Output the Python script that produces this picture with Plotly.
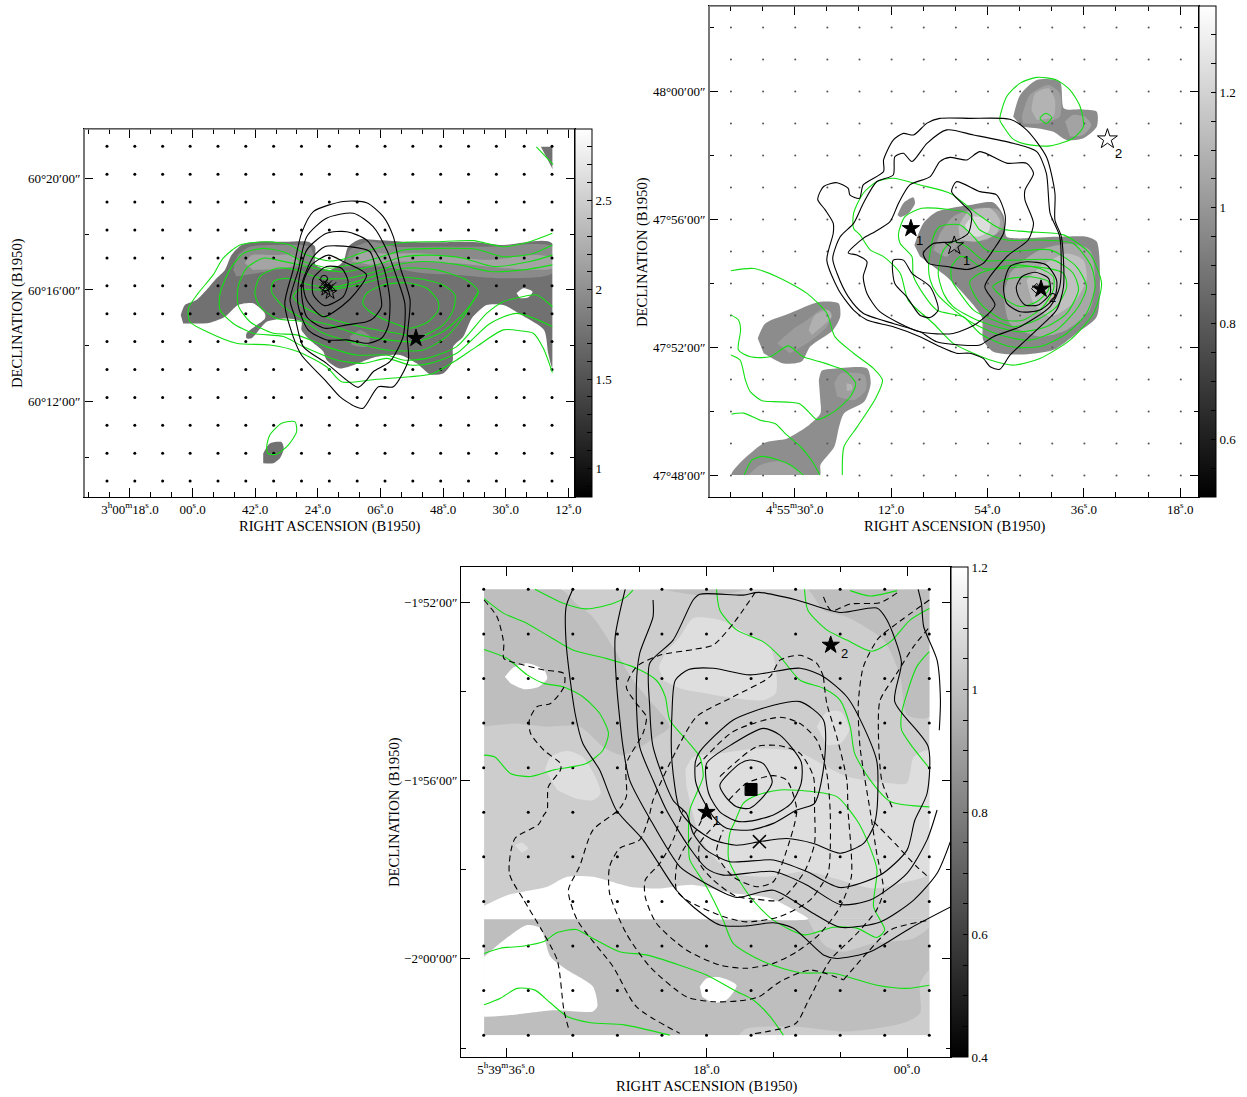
import plotly.graph_objects as go

W, H = 1247, 1097
SERIF = "Liberation Serif"
GREEN = "#12e012"

# ---------- PANEL 1: RA seconds from 3h00m00s, Dec arcmin from 60d16m ----------
p1_dot_ra = [24.6,16.6,8.6,0.7,-7.3,-15.3,-23.3,-31.3,-39.3,-47.3,-55.3,-63.3,-71.3,-79.3,-87.3,-95.3,-103.3]
p1_dot_dec = [5.15,4.15,3.15,2.15,1.15,0.15,-0.85,-1.85,-2.85,-3.85,-4.85,-5.85,-6.85]
p1_xticks = [18,0,-18,-36,-54,-72,-90,-108]
p1_xlabels = ["3<sup>h</sup>00<sup>m</sup>18<sup>s</sup>.0","00<sup>s</sup>.0","42<sup>s</sup>.0","24<sup>s</sup>.0","06<sup>s</sup>.0","48<sup>s</sup>.0","30<sup>s</sup>.0","12<sup>s</sup>.0"]
p1_yticks = [4,0,-4]
p1_ylabels = ["60°20′00″","60°16′00″","60°12′00″"]
p1_cb_ticks = [.9,1,1.1,1.2,1.3,1.4,1.5,1.6,1.7,1.8,1.9,2,2.1,2.2,2.3,2.4,2.5,2.6,2.7,2.8]
p1_cb_labels = {1:"1",1.5:"1.5",2:"2",2.5:"2.5"}

p1_dark = [(3.4,-.9),(2.2,-.54),(-1.1,-.36),(-4,0),(-6.9,.42),(-9.3,.72),(-11.2,1.25),(-14.1,1.61),(-18.4,1.73),(-26.1,1.73),(-33.2,1.73),(-35.2,1.55),(-35.3,.9),(-39.5,.72),(-43.3,1.02),(-44.7,1.55),(-48.1,1.82),(-52.9,1.79),(-60.5,1.73),(-70.1,1.71),(-79.7,1.73),(-89.3,1.61),(-103.4,1.67),(-103.4,-2.81),(-102.2,-2.27),(-101,-1.43),(-95,-.93),(-89.3,-.54),(-84.5,-.54),(-80.2,-1.02),(-77.8,-1.67),(-74.9,-2.03),(-74.7,-2.57),(-72,-2.99),(-68.2,-3.02),(-64.4,-2.63),(-59.6,-2.33),(-52.9,-2.39),(-42.3,-2.81),(-38.5,-2.51),(-37.6,-2.21),(-33.7,-1.79),(-31.3,-1.43),(-31.3,-1.14),(-27,-1.02),(-21.3,-1.14),(-17,-1.73),(-15.5,-1.73),(-15.5,-1.55),(-20.8,-1.02),(-20.8,-.84),(-17.4,-.48),(-13.1,-.54),(-9.3,-.96),(-5,-1.17),(2.7,-1.2)]
p1_blob = [(-20.3,-5.86),(-22.2,-5.5),(-25.6,-5.46),(-26.2,-5.68),(-25.1,-6.03),(-23.2,-6.21),(-20.3,-6.21)]
p1_corner = [(-100.1,5.13),(-103.6,5.13),(-103.6,4.3)]
p1_mid_a = [(-11.7,.72),(-13.1,1.25),(-16.5,1.55),(-25.1,1.61),(-33.7,1.55),(-34.9,1.02),(-31.8,.84),(-23.2,.72),(-18.4,.6),(-12.6,.48)]
p1_mid_b = [(-43.8,.84),(-45.2,1.43),(-51,1.73),(-58.6,1.55),(-70.1,1.55),(-84.5,1.55),(-103.4,1.55),(-103.4,.6),(-89.3,.42),(-75.9,.54),(-66.3,.6),(-54.8,.84)]
p1_mid_c = [(-45.2,-1.67),(-48.1,-1.43),(-51,-1.67),(-50,-2.03),(-45.7,-1.97)]
p1_light_a = [(-15,.96),(-17,1.25),(-23.2,1.25),(-28.9,1.25),(-30.4,.96),(-26.1,.78),(-17.4,.72)]
p1_light_b = [(-45.7,1.02),(-48.1,1.37),(-54.8,1.31),(-66.3,1.31),(-84.5,1.08),(-98.8,1.25),(-103.4,1.14),(-103.4,.78),(-90.2,.78),(-75.9,.96),(-60.5,1.02),(-51,.9)]
p1_hole = [(-93.1,-.12),(-95,.06),(-97.7,-.06),(-96.5,-.26),(-94.1,-.3)]
p1_mask = [(-103.4,5.77),(-109.9,5.77),(-109.9,-7.42),(-103.4,-7.42)]

p1_g1 = [(-103.4,2.03),(-96.9,1.73),(-89.3,1.55),(-80.7,1.77),(-70.1,1.73),(-60.5,1.7),(-51,1.43),(-44.3,1.14),(-39.5,1.04),(-32.8,1.25),(-28,1.61),(-21.3,1.73),(-13.6,1.61),(-8.8,1.14),(-5.9,.54),(-1.6,-.12),(1.2,-.66),(.8,-1.14),(-4,-1.49),(-12.6,-1.91),(-22.2,-1.97),(-30.4,-2.21),(-38.5,-2.75),(-42.8,-3.29),(-52.9,-3.2),(-62.5,-3.11),(-69.2,-2.99),(-75.9,-2.51),(-81.6,-2.03),(-89.3,-1.43),(-94.1,-1.46),(-97.9,-1.55),(-100.8,-2.09),(-103.4,-2.96)]
p1_g2 = [(-103.4,1.61),(-97.9,1.31),(-89.3,1.19),(-81.6,1.46),(-70.1,1.49),(-60.5,1.43),(-52.9,1.14),(-45.2,.9),(-39.5,.78),(-31.8,1.02),(-26.1,1.37),(-20.3,1.49),(-14.6,1.31),(-10.7,.72),(-7.9,-.12),(-7.9,-.72),(-11.7,-1.2),(-17.4,-1.55),(-26.1,-1.67),(-31.8,-2.03),(-41.4,-2.51),(-49,-2.63),(-55.8,-2.45),(-62.5,-2.69),(-68.2,-2.63),(-75.9,-2.27),(-85.5,-1.2),(-93.1,-.84),(-103.4,-1.31)]
p1_g3 = [(-103.4,1.25),(-96.9,1.02),(-86.4,.84),(-77.8,1.14),(-68.2,1.25),(-60.5,1.19),(-52.9,.9),(-44.3,.66),(-37.6,.72),(-30.8,.9),(-24.1,1.08),(-20.3,1.14),(-15.5,.78),(-13.1,.12),(-13.1,-.54),(-16.5,-1.14),(-23.2,-1.55),(-29.9,-1.61),(-38.5,-2.03),(-47.1,-2.33),(-55.8,-2.33),(-60.5,-2.51),(-67.3,-2.45),(-75.9,-2.03),(-84.5,-.84),(-89.3,-.42),(-94.1,-.26),(-98.9,-.18),(-103.4,-.6)]
p1_g4 = [(-103.4,.9),(-95,.72),(-85.5,.66),(-76.8,.9),(-66.3,1.02),(-58.6,.9),(-51,.6),(-44.3,.42),(-36.6,.42),(-29.9,.72),(-24.1,.78),(-19.4,.48),(-17.9,-.12),(-19.4,-.6),(-24.1,-1.02),(-31.8,-1.14),(-37.6,-1.55),(-47.1,-1.91),(-55.8,-2.15),(-66.3,-2.15),(-73,-1.67),(-77.8,-.96),(-82.1,-.06)]
p1_g5 = [(-82.1,-.06),(-78.7,.36),(-70.1,.72),(-60.5,.78),(-51,.45),(-41.4,.12),(-33.7,.18),(-27,.42),(-23.2,.3),(-22.7,-.06),(-25.6,-.54),(-31.8,-1.02),(-39.5,-1.25),(-48.1,-1.61),(-55.8,-1.79),(-64.4,-1.85),(-72,-1.49),(-77.8,-.84),(-82.1,-.06)]
p1_g6 = [(-75.4,-.18),(-72,.18),(-64.4,.42),(-55.8,.45),(-47.1,.18),(-38.5,0),(-30.4,0),(-28.9,-.24),(-31.8,-.6),(-39.5,-1.02),(-48.1,-1.31),(-58.6,-1.55),(-65.3,-1.67),(-72,-1.25),(-74.9,-.72),(-75.4,-.18)]
p1_g7 = [(-70.6,-.42),(-67.3,.06),(-61.5,.26),(-54.8,.18),(-50,-.12),(-48.9,-.48),(-51,-.78),(-56.7,-1.14),(-62.5,-1.37),(-67.7,-1.14),(-70.6,-.72),(-70.6,-.42)]
p1_g8 = [(-21.3,-5.62),(-22.2,-5.2),(-25.6,-4.78),(-29.4,-4.72),(-29.9,-5.08),(-27.5,-5.56),(-24.1,-5.89),(-21.7,-5.86),(-21.3,-5.62)]
p1_g9 = [(-98.8,5.13),(-103.6,4.5)]

p1_b1 = [(-49,-4.24),(-46.7,-4.18),(-42.3,-3.82),(-38.5,-3.29),(-31.3,-2.33),(-28.9,-1.67),(-26.5,-.48),(-28.9,.72),(-31.3,2.03),(-34.7,2.81),(-43.3,3.17),(-50,3.13),(-54.8,2.63),(-57.7,1.91),(-59.6,.84),(-62.5,-.36),(-61.7,-1.67),(-62,-2.51),(-57.7,-3.47),(-53.4,-3.47),(-49,-4.24)]
p1_b2 = [(-47.6,-3.49),(-44.3,-3.23),(-38.5,-2.63),(-31.8,-2.03),(-29.4,-.96),(-28,-.36),(-30.4,.72),(-32.8,1.91),(-38.5,2.57),(-46.2,2.75),(-51.9,2.27),(-55.8,1.43),(-58.6,.48),(-61,-.48),(-60.5,-1.67),(-56.7,-2.57),(-51.9,-2.93),(-50,-3.23),(-47.6,-3.49)]
p1_b3 = [(-50.5,-1.91),(-44.3,-1.79),(-38.5,-1.79),(-33.2,-1.43),(-30.4,-.6),(-30.4,.24),(-32.8,1.43),(-38.5,2.03),(-44.3,2.09),(-50,1.79),(-54.8,.84),(-56.7,-.36),(-56.2,-1.31),(-54.3,-1.73),(-50.5,-1.91)]
p1_b4 = [(-50,-1.14),(-44.3,-1.25),(-38,-1.37),(-32.8,-.96),(-31.3,.12),(-34.7,1.19),(-38,1.55),(-45.2,1.55),(-51,1.37),(-53.4,.24),(-54.3,-.6),(-51.9,-1.02),(-50,-1.14)]
p1_b5 = [(-37.6,-.96),(-32.8,-.36),(-31.8,.24),(-34.2,.9),(-39,1.25),(-43.3,1.02),(-50,.54),(-46.7,-.12),(-43.3,-.54),(-37.6,-.96)]
p1_b6 = [(-38,-.56),(-34.7,-.18),(-34.7,.42),(-38.5,.84),(-42.8,.78),(-44.7,.3),(-43.3,-.24),(-38,-.56)]

p1_star = [(-64.2,-1.73)]
p1_cross = [(-37.6,.24),(-38.8,.18),(-39.2,.06),(-38.2,.1),(-40,.12)]
p1_open_star = [(-39.5,-.1),(-38.3,.02)]
p1_open_circle = [(-37.8,.4)]

# ---------- PANEL 2: RA seconds from 4h55m00s, Dec arcmin from 47d56m ----------
p2_dot_ra = [41.9,35.9,29.9,23.9,17.9,11.9,5.9,-.1,-6.1,-12.1,-18.1,-24.1,-30.1,-36.1,-42.1]
p2_dot_dec = [6,5,4,3,2,1,0,-1,-2,-3,-4,-5,-6,-7,-8]
p2_xticks = [30,12,-6,-24,-42]
p2_xlabels = ["4<sup>h</sup>55<sup>m</sup>30<sup>s</sup>.0","12<sup>s</sup>.0","54<sup>s</sup>.0","36<sup>s</sup>.0","18<sup>s</sup>.0"]
p2_yticks = [4,0,-4,-8]
p2_ylabels = ["48°00′00″","47°56′00″","47°52′00″","47°48′00″"]
p2_cb_ticks = [.55,.6,.65,.7,.75,.8,.85,.9,.95,1,1.05,1.1,1.15,1.2,1.25,1.3]
p2_cb_labels = {.6:"0.6",.8:"0.8",1:"1",1.2:"1.2"}

p2_f_top = [(-10.8,3.21),(-12.1,3.89),(-15.2,4.36),(-19.5,4.31),(-20.3,3.47),(-23.6,3.44),(-26.4,3.37),(-26.4,2.9),(-23.9,2.54),(-20.8,2.48),(-18.3,2.74),(-15.2,2.85),(-12.4,2.9)]
p2_f_top_m = [(-12.4,3.21),(-13.9,3.89),(-17.4,4.2),(-19.5,3.94),(-19.5,3.21),(-15.8,3),(-12.7,3)]
p2_f_top_l = [(-14.2,3.42),(-14.9,3.94),(-17.4,4.1),(-18.6,3.74),(-18.3,3.21),(-15.2,3.11)]
p2_f_top_r = [(-20.5,3.06),(-22,3.27),(-24.2,3.21),(-25.4,2.95),(-23.9,2.64),(-21.4,2.59)]
p2_f_main = [(7.65,-.8),(5.97,-.12),(3.48,.24),(-2.74,.45),(-7.09,.53),(-8.96,.14),(-9.27,-.22),(-9.58,-.54),(-18.9,-.54),(-24.5,-.54),(-26.4,-.69),(-27,-1.79),(-26.4,-3.04),(-22.6,-3.56),(-18.3,-4.08),(-12.1,-4.22),(-7.09,-4.13),(-5.22,-3.77),(-4.91,-3.04),(-1.49,-2.31),(1.62,-1.79),(4.1,-1.47),(6.59,-1.16)]
p2_f_m1 = [(2.86,-.43),(.37,.09),(-3.98,.35),(-8.02,.3),(-8.96,-.22),(-5.85,-.64),(-1.49,-.64),(1.62,-1.16),(4.1,-.95)]
p2_f_r1 = [(-10.2,-1.68),(-12.07,-1.37),(-15.8,-.95),(-21.4,-.75),(-25.1,-.95),(-26.1,-1.79),(-25.1,-2.83),(-20.8,-3.45),(-15.8,-3.66),(-10.2,-3.25),(-9,-2.31)]
p2_f_r2 = [(-15.8,-1.47),(-20.8,-1.06),(-23.9,-1.27),(-24.5,-1.89),(-22,-2.62),(-17.7,-3.04),(-14.6,-2.62),(-13.3,-1.89)]
p2_f_c1 = [(-.56,-.22),(-2.43,.24),(-6.47,.35),(-8.33,-.02),(-7.71,-.43),(-3.98,-.69),(-.87,-.64)]
p2_f_c2 = [(-1.8,-.17),(-3.36,.09),(-6.47,-.02),(-6.16,-.38),(-3.98,-.54),(-2.43,-.48)]
p2_f_small = [(10.8,.14),(9.7,.51),(7.84,.69),(7.53,.51),(8.77,.19),(10.3,.07)]
p2_f_ll = [(36.9,-3.71),(35.5,-3.25),(30.9,-2.93),(25.3,-2.57),(21.8,-2.62),(21.5,-3.04),(22.8,-3.45),(27.1,-3.97),(28.7,-4.44),(32.1,-4.5),(35.8,-4.18)]
p2_f_ll_m = [(33.3,-3.87),(30.5,-3.45),(27.7,-3.14),(24.6,-2.78),(23.1,-2.93),(24,-3.35),(27.7,-3.87),(30.9,-4.18)]
p2_f_ll_l = [(27.4,-3.45),(26.2,-2.99),(23.7,-2.83),(23.1,-3.04),(24.6,-3.3),(26.8,-3.61)]
p2_f_low = [(25.5,-5.02),(24.9,-4.72),(22.7,-4.66),(16.5,-4.65),(15.8,-5.12),(17,-5.69),(20.8,-6.06),(21.7,-6.47),(22.6,-7.1),(25.2,-7.67),(25.3,-7.98),(41.8,-7.98),(35.8,-6.99),(31.4,-6.84),(27.7,-6.47),(25.2,-6.06),(25.2,-5.69)]
p2_f_low_m = [(22.6,-5.12),(21.4,-4.81),(17,-4.86),(16.7,-5.33),(18.9,-5.64),(22.1,-5.53)]
p2_f_low_l = [(20.3,-5.12),(19.3,-5.17),(19.3,-5.33),(20.3,-5.35)]
p2_f_bot = [(38.6,-7.98),(36.4,-7.67),(32.7,-7.56),(28.9,-7.87),(28.3,-7.98)]
p2_mask = [(46,-7.98),(-45.5,-7.98),(-45.5,-8.67),(46,-8.67)]

p2_g1 = [(-10.8,2.51),(-9,2.9),(-8.3,3.11),(-9.6,3.84),(-12.1,4.26),(-15.2,4.44),(-18.9,4.36),(-21.4,4.05),(-23.3,3.53),(-23.9,2.9),(-22,2.54),(-17.7,2.3),(-13.9,2.33),(-10.8,2.51)]
p2_g2 = [(-15.8,3.16),(-16.9,3.32),(-18,3.19),(-17,3),(-15.8,3.16)]
p2_g3 = [(19,-.28),(19,.19),(17.2,.82),(14.7,1.18),(11.6,1.29),(6.6,1.08),(1,.82),(-4,.19),(-8.3,-.28),(-13.3,-.38),(-20.2,-.48),(-25.1,-1.06),(-27.3,-2),(-25.8,-2.93),(-21.4,-3.77),(-15.8,-4.34),(-10.8,-4.55),(-6.5,-4.39),(-3.4,-4.18),(.4,-3.87),(4.1,-3.25),(8.8,-2.52),(10.3,-1.68),(13.4,-1.16),(15.9,-.95),(17.8,-.48),(19,-.28)]
p2_g4 = [(10.6,-.43),(9.4,.09),(6.3,.35),(1.6,.32),(-2.4,.19),(-4.6,-.33),(-9.6,-.64),(-15.8,-.64),(-22,-.75),(-25.4,-1.47),(-26.1,-2.1),(-24.5,-2.93),(-20.8,-3.56),(-15.8,-3.97),(-10.2,-3.97),(-4.6,-3.56),(-1.5,-3.04),(3.5,-2.83),(7.8,-1.79),(8.1,-1.16),(10.3,-.75),(10.6,-.43)]
p2_g5 = [(5,-1.47),(4.1,-.54),(2.9,-.22),(-.9,-.17),(-3.4,-.54),(-5.8,-.95),(-10.8,-1),(-17.7,-.95),(-22.6,-1.47),(-24.5,-2.1),(-23,-2.72),(-18.9,-3.45),(-13.9,-3.77),(-8.3,-3.61),(-3.4,-3.25),(1,-2.72),(3.5,-2.31),(4.7,-1.89),(5,-1.47)]
p2_g6 = [(3.2,-1.68),(2.2,-.95),(.4,-.69),(-2.1,-.85),(-5.2,-1.27),(-10.8,-1.27),(-18.3,-1.27),(-22,-1.68),(-23,-2.2),(-20.8,-2.93),(-17,-3.35),(-12.1,-3.51),(-7.7,-3.35),(-4,-3.14),(.4,-2.72),(2.2,-2.31),(3.2,-1.68)]
p2_g7 = [(.7,-1.89),(.7,-1.47),(-.9,-1.16),(-2.4,-1.21),(-5.2,-1.53),(-14.6,-1.47),(-20.2,-1.68),(-20.8,-2.1),(-18.9,-2.72),(-15.2,-3.14),(-10.8,-3.35),(-7.1,-3.14),(-3.4,-2.83),(-.9,-2.31),(.7,-1.89)]
p2_g8 = [(-2.7,-1.94),(-4.6,-1.68),(-10.8,-1.42),(-15.8,-1.53),(-18.3,-1.79),(-18.3,-2.2),(-16.4,-2.72),(-12.7,-3.14),(-9,-3.14),(-5.2,-2.72),(-3.4,-2.31),(-2.7,-1.94)]
p2_g9 = [(-7,-2.1),(-9,-1.89),(-13.9,-1.79),(-17.4,-1.94),(-17.4,-2.2),(-15.2,-2.57),(-12.1,-2.72),(-9.6,-2.52),(-7,-2.1)]
p2_g10 = [(41.9,-1.6),(37.7,-1.53),(33.3,-1.79),(27.7,-2.31),(24,-2.93),(22.5,-3.66),(19,-4.18),(15.3,-4.65),(13.6,-5.02),(14.9,-5.59),(18.3,-6.47),(20.8,-7.1),(21.1,-7.98)]
p2_g11 = [(41.9,-4.23),(40.2,-4.39),(39.2,-5.02),(38.3,-5.38),(36.1,-5.66),(33.9,-5.69),(29.2,-5.75),(27.4,-6.01),(25.8,-6.25),(22.7,-6.01),(19.6,-5.53),(18.6,-5.12),(20.8,-4.7),(22.5,-4.6),(25.3,-4.44),(28.4,-4.29),(31.2,-3.95),(34.6,-4.29),(38.3,-4.29),(40.5,-4.08),(40.1,-3.45),(40.5,-3.14),(41.9,-2.98)]
p2_g12 = [(41.8,-6.08),(39.5,-6.05),(36.4,-6.27),(33.6,-6.38),(31.7,-6.7),(28.9,-7.1),(26.7,-7.56),(25.3,-7.98)]
p2_g13 = [(39.4,-7.98),(38,-7.52),(36.1,-7.4),(33.3,-7.5),(30.8,-7.67),(28.4,-7.98)]

p2_b1 = [(-8.3,-4.68),(-6.5,-4.6),(-5.2,-4.34),(-2.7,-4.18),(-.2,-4.18),(2.9,-3.97),(6.6,-3.66),(11.6,-3.35),(16.5,-3.14),(19,-2.83),(21.8,-2.2),(24,-1.27),(22.8,-.43),(22.8,-.12),(24.3,.3),(25.7,.63),(24.6,1.03),(22.1,1.15),(20,.97),(19.7,.77),(17.9,.66),(17.2,1.08),(13.4,1.5),(13.4,1.86),(11.6,2.48),(9.7,2.69),(7.8,2.64),(5.3,3.01),(2.9,3.16),(-2.7,3.16),(-10.2,3.13),(-13.3,2.8),(-17,1.96),(-18.6,.82),(-18.6,-.02),(-19.8,-.54),(-20.2,-2.1),(-18.9,-2.83),(-15.2,-3.45),(-10.2,-4.24),(-8.3,-4.68)]
p2_b2 = [(22.9,-1.21),(22.1,-1.68),(20,-2.41),(17.2,-2.93),(11.6,-3.25),(6.6,-3.51),(3.5,-3.82),(-.9,-3.92),(-4.6,-3.92),(-7.1,-3.66),(-12.1,-3.35),(-17.7,-2.72),(-19.5,-2.1),(-19.5,-.54),(-17.7,.19),(-17,1.44),(-15.2,2.12),(-10.8,2.38),(-3.4,2.64),(1.6,2.8),(5.3,2.38),(8.1,1.81),(9.7,2.07),(11.3,1.96),(11.6,1.39),(14.7,1.18),(17.2,.5),(19,-.12),(21.5,-.54),(22.9,-1.21)]
p2_b3 = [(20,-1.04),(17.2,-.59),(15,-.38),(12.2,-.07),(10.6,.51),(8.5,1.08),(4.7,1.34),(2.9,1.81),(1,1.94),(-2.1,1.86),(-4.6,2.12),(-9.6,1.76),(-13.3,1.76),(-14.6,1.44),(-13,.92),(-13,.61),(-14.6,-.12),(-13.6,-.64),(-9.6,-1.16),(-5.5,-2.1),(-7.4,-2.67),(-4,-3.25),(.4,-3.56),(6.6,-3.51),(14.1,-2.88),(16.5,-2.31),(17.2,-1.79),(16.5,-1.32),(18.4,-1.11),(20,-1.04)]
p2_b4 = [(.7,.87),(-.2,1.18),(-4.6,.87),(-7.7,.77),(-9.3,.14),(-9,-.43),(-7.1,-.95),(-5.2,-1.37),(-2.4,-1.56),(1.6,-1.47),(5,-1.37),(6,-1.06),(4.1,-.75),(.4,-.69),(-2.4,-.43),(-3,.19),(-1.2,.51),(.7,.87)]
p2_b5 = [(11.6,-1.27),(9.7,-1.27),(8.1,-1.68),(4.7,-2.1),(3.2,-2.83),(4.7,-3.06),(6.6,-2.99),(9.1,-2.41),(11.3,-2),(11.6,-1.27)]
p2_b6 = [(-9,-2.1),(-10.2,-1.47),(-13.3,-1.32),(-17,-1.42),(-18.9,-1.89),(-18.6,-2.41),(-15.8,-2.83),(-12.1,-2.88),(-9.6,-2.62),(-9,-2.1)]
p2_b7 = [(-11.4,-2.1),(-12.4,-1.79),(-14.9,-1.65),(-17.4,-1.84),(-17.7,-2.31),(-15.5,-2.67),(-13,-2.67),(-11.8,-2.41),(-11.4,-2.1)]

# ---------- PANEL 3: RA seconds from 5h39m00s, Dec arcmin from -1d56m ----------
p3_dot_ra = [38,34,30,26,22,18,14,10,6,2,-2]
p3_dot_dec = [4.29,3.29,2.29,1.29,.29,-.71,-1.71,-2.71,-3.71,-4.71,-5.71]
p3_xticks = [36,18,0]
p3_xlabels = ["5<sup>h</sup>39<sup>m</sup>36<sup>s</sup>.0","18<sup>s</sup>.0","00<sup>s</sup>.0"]
p3_yticks = [4,0,-4]
p3_ylabels = ["−1°52′00″","−1°56′00″","−2°00′00″"]
p3_cb_ticks = [.4,.45,.5,.55,.6,.65,.7,.75,.8,.85,.9,.95,1,1.05,1.1,1.15,1.2]
p3_cb_labels = {.4:"0.4",.6:"0.6",.8:"0.8",1:"1",1.2:"1.2"}

p3_upper = [(37.97,4.29),(-2.03,4.29),(-2.03,-3.1),(37.97,-3.1)]
p3_lower = [(37.97,-3.1),(-2.03,-3.1),(-2.03,-5.71),(37.97,-5.71)]
p3_d1 = [(37.97,4.29),(31.1,4.29),(29.7,3.97),(28.2,3.67),(26.4,3),(24.6,2.25),(23.4,1.88),(21.3,1.21),(22.5,.98),(25.5,.57),(27.3,.76),(29.4,1.21),(32.3,1.21),(35.3,1.28),(37.97,1.21)]
p3_d2 = [(14.4,4.29),(9,4.29),(7.5,3.82),(5.4,3.67),(2.1,3.15),(.6,2.33),(0,1.47),(-2.03,1.43),(-2.03,4.29)]
p3_d3 = [(22,4.29),(18.9,4.16),(15.6,4.21),(14.4,4.29)]
p3_l1 = [(22.3,2.55),(21.6,2.89),(20.4,3.22),(19.2,3.64),(16.8,3.6),(14.4,3.3),(12.3,3),(11.7,2.33),(11.8,1.95),(12.9,1.8),(15.3,1.84),(18,1.95),(20.4,2.07),(21.9,2.25)]
p3_l2 = [(32.5,.24),(32,.53),(30.5,.67),(29.1,.53),(28,.09),(27.5,-.29),(28.2,-.44),(29.7,-.4),(31.4,-.21)]
p3_l3 = [(8.1,1.21),(7.2,1.54),(5.9,1.54),(5.2,1.13),(6,.83),(7.2,.8)]
p3_l4 = [(19.9,.24),(19.2,.53),(16.8,.61),(13.5,.72),(9.9,.65),(5.4,.09),(1.5,-.06),(0,-.06),(-.6,.53),(-2.03,.68),(-2.03,-2.08),(0,-2.27),(3,-2.42),(6,-2.23),(9,-2.04),(12.6,-2.16),(15.6,-2.08),(17.4,-1.71),(18.6,-1.26),(19.8,-.14)]
p3_l5 = [(8.9,-3.11),(8.4,-3.35),(7.2,-3.73),(5.7,-3.84),(3,-3.65),(-.57,-3.54),(-2.03,-3.28),(-2.03,-3.11)]
p3_l6 = [(15.1,-5.71),(14.4,-5.56),(9.9,-5.52),(5.4,-5.63),(.33,-5.44),(-1.17,-5.22),(-1.17,-4.55),(-2.03,-4.25),(-2.03,-5.71)]
p3_l7 = [(35.2,-1.45),(34.6,-1.39),(34,-1.52),(34.6,-1.62)]
p3_w1 = [(36.1,2.33),(35.3,2.54),(34.1,2.63),(32.6,2.48),(32.3,2.29),(33.1,2.1),(34.4,2.05),(35.6,2.18)]
p3_w2 = [(37.97,-2.81),(35.9,-2.57),(32.3,-2.38),(30.5,-2.16),(28.2,-2.16),(24.9,-2.38),(22.2,-2.42),(19.2,-2.34),(15.6,-2.53),(12.3,-2.64),(8.9,-3.09),(8.9,-3.11),(20,-3.11),(37.97,-3.11)]
p3_w3 = [(37.97,-3.95),(36.2,-3.58),(34.1,-3.24),(32.9,-3.31),(32,-3.95),(30.5,-4.25),(28.2,-4.62),(27.8,-5.07),(28.2,-5.18),(31.7,-5.15),(35.6,-5.26),(37.97,-5.3)]
p3_w4 = [(18.6,-4.62),(18,-4.44),(16.8,-4.41),(15.3,-4.59),(16.2,-4.92),(17.4,-4.98),(18.4,-4.85)]
p3_mask_t = [(40.04,4.79),(-3.95,4.79),(-3.95,4.29),(40.04,4.29)]
p3_mask_b = [(40.04,-5.71),(-3.95,-5.71),(-3.95,-6.2),(40.04,-6.2)]
p3_mask_l = [(40.04,4.79),(37.97,4.79),(37.97,-6.2),(40.04,-6.2)]
p3_mask_r = [(-2.03,4.79),(-3.95,4.79),(-3.95,-6.2),(-2.03,-6.2)]

p3_k1 = [(30,4.29),(30.6,3.9),(30.6,3.08),(29.8,1.51),(29.1,.83),(27.6,.24),(26.1,-.66),(23.7,-1.33),(20.7,-2.46),(19.2,-2.83),(16.8,-3.24),(14.4,-3.26),(12,-3.19),(10.2,-3.31),(7.5,-3.91),(6.3,-3.99),(3.3,-3.84),(-.3,-3.31),(-3.95,-2.83)]
p3_k2 = [(25.3,4.29),(26.2,3.22),(26.1,2.25),(25.5,.76),(24.9,.01),(23.1,-.85),(20.4,-1.93),(18.6,-2.23),(15.3,-2.62),(12,-2.46),(8.4,-2.98),(6,-3.29),(2.4,-3.17),(-.6,-2.68),(-2.7,-2.08),(-3.95,-1.33)]
p3_k3 = [(22.8,4.05),(22.8,3.67),(24,2.85),(24.3,2.1),(24,.76),(22.8,.01),(21.6,-.66),(19.6,-1.48),(18,-1.97),(16.5,-2.12),(12,-2.04),(9,-2.34),(6,-2.78),(3.3,-2.68),(0,-2.08),(-1.8,-1.33),(-2.7,-.66)]
p3_k4 = [(19.2,4.05),(21,3.15),(23.1,2.63),(23.1,1.66),(22.8,.76),(21,-.44),(19.8,-.74),(19.2,-1.18),(18,-1.56),(15.9,-1.82),(12,-1.78),(9,-2.04),(6,-2.4),(2.4,-2.12),(0,-1.56),(-.7,-.89),(-1.8,-.29),(-1.9,.76),(1.1,1.77),(.5,2.66),(1.8,3.6),(2.7,3.87),(6,3.77),(9.9,4.05),(13.3,4.22),(14.7,4.16),(18.6,4.18),(19.2,4.05)]
p3_k5 = [(21.1,.42),(21.1,1.51),(20.8,2.25),(19.6,2.49),(17.4,2.52),(14.1,2.37),(9.6,2.52),(7.5,2.33),(5.4,1.88),(3.9,1.21),(2.7,.42),(2.7,-.66),(3,-1.03),(3.9,-1.41),(6,-1.63),(8.4,-1.41),(10.8,-1.3),(13.2,-1.37),(15.3,-1.45),(17.4,-1.33),(19.2,-1.03),(20.4,-.66),(21.1,.42)]
p3_k6 = [(19,.42),(18.6,.65),(15.6,1.36),(12,1.69),(9.6,1.77),(7.5,1.36),(7.4,.46),(8.3,-.51),(9.9,-.66),(12,-.96),(14.1,-1.11),(16.2,-1.07),(17.4,-.81),(18.6,-.29),(19,.01),(19,.42)]
p3_k7 = [(18,.38),(15.6,.83),(12.9,1.17),(11.4,1.02),(9.5,.42),(9.5,-.06),(10.4,-.51),(12,-.77),(14.1,-.91),(15.3,-.91),(16.8,-.7),(17.8,-.29),(18,.38)]
p3_k8 = [(16.8,-.1),(15,.38),(14.1,.46),(12.9,.38),(12.1,-.03),(12.9,-.36),(14.1,-.62),(15.3,-.59),(16.3,-.36),(16.8,-.1)]
p3_k9 = [(-1,4.29),(-1.3,3.97),(-1.5,3.45),(-2.7,2.7),(-3,1.8),(-2.9,1.13)]

p3_n1 = [(37.97,4.05),(36.8,3.67),(36.2,3.08),(36.2,2.74),(35.3,2.65),(32.6,2.48),(30.8,2.4),(30.8,2.1),(32,1.73),(33.2,1.66),(33.9,1.36),(33.8,1.06),(32.6,.68),(31.1,.38),(31.1,.24),(32.2,-.14),(32.3,-.66),(32.6,-.77),(33.1,-.99),(35.2,-1.3),(35.7,-2.08),(34.4,-2.68),(32.8,-3.35),(31.4,-4.03),(30.8,-5.15),(30.3,-5.63)]
p3_n2 = [(13.6,4.23),(15.6,3.52),(17.4,3.04),(19.2,2.94),(22.2,2.81),(24.3,2.55),(25.2,2.1),(24.3,1.73),(23.4,1.43),(23.7,1.06),(25.2,.38),(25.2,-.36),(25.9,-.66),(28.2,-1.11),(29.4,-1.93),(30.4,-2.46),(29.6,-3.13),(26.4,-4.17),(24.3,-5.07),(20.4,-5.67)]
p3_n3 = [(7.5,2.33),(8.1,2.63),(9.6,2.81),(11.4,2.7),(12.3,2.33),(15.6,1.88),(18.9,1.43),(20.7,.68),(22.8,-.44),(23.2,-.85),(24,-1.33),(25.8,-1.52),(26.7,-1.93),(26.7,-2.53),(25.2,-3.43),(23.1,-4.17),(19.8,-4.85),(17.4,-4.96),(15,-4.94),(13.3,-4.85),(11.4,-4.51),(8.7,-4.25),(5.7,-4.47)]
p3_n3b = [(5.7,-4.47),(3.6,-3.87),(1.5,-3.35),(-2,-3.13)]
p3_n4 = [(7.5,4.12),(6.8,3.81),(5.1,3.96),(2.4,3.99),(.78,4.23)]
p3_n5 = [(-2,4.05),(.93,3.52),(2.57,3.19),(3.92,2.55),(4.37,1.73),(4.22,.76),(3.32,-.66),(2.72,-1.63),(2.12,-2.46),(2.72,-2.9),(4.5,-3.43),(6.9,-4.03),(8.9,-4.96),(10,-5.45),(13.8,-5.68)]
p3_n6 = [(-1.9,3.41),(-.57,3),(.93,2.4),(2.42,1.8),(2.57,1.13),(2.27,.01),(1.23,-.66)]
p3_n7 = [(3,-.92),(1.08,-1.41),(-.87,-1.93),(-1.9,-2.16)]
p3_n8 = [(7.5,2.33),(7.2,1.73),(6.3,.98),(5.4,.01),(5.3,-.66),(5,-1.63),(5,-2.16),(6,-2.83),(7.8,-3.43),(9.9,-3.84),(12,-4.1),(14.4,-4.21),(16.8,-4.14),(19.8,-3.8),(22.5,-3.2),(23.5,-2.61),(23.5,-2.23),(22.2,-1.86),(21,-1.33),(20.1,-.66)]
p3_n9 = [(18.9,.31),(15.6,1.1),(11.4,1.42),(9.6,1.28),(8.1,.91),(7.2,.16),(6.9,-.66),(6.9,-1.63),(7.1,-2.08),(8.7,-2.68),(11.4,-3.05),(14.4,-3.17),(16.5,-3.05),(19.8,-2.68),(20.7,-2.46),(20.7,-1.93),(20.1,-1.56),(18.9,-1.11),(18,-.66)]
p3_n10 = [(16.8,.09),(13.5,.76),(11.4,.78),(9.6,.61),(8.4,.09),(8.3,-.66),(8.3,-1.41),(9.2,-2.04),(11.4,-2.68),(13.5,-2.66),(15.3,-2.6),(17.4,-2.23),(18.6,-1.86),(18.6,-1.41),(16.8,-.89)]
p3_n11 = [(16,-.44),(14.4,-.06),(12,.11),(10.8,.01),(9.9,-.66),(10.8,-1.56),(12,-2.27),(13.5,-2.38),(15.6,-2.16),(17.1,-1.63),(16.5,-1.11)]

p3_v1 = [(33.4,4.29),(30.8,3.97),(28.8,3.85),(26.4,3.97),(25.2,4.12),(24.6,4.27)]
p3_v2 = [(37.97,4.08),(36.2,3.75),(34.4,3.56),(32.3,3.26),(30,2.93),(27,2.74),(24.3,2.52),(22.5,2.25),(21.7,1.88),(21.3,1.36),(19.8,.91),(18.6,.53),(18.3,.09),(18.9,-.29),(19.5,-.66),(19.6,-1.48),(19.5,-1.78),(18,-2.38),(16.5,-3.13),(15.6,-3.65),(12.9,-4.06),(9.6,-4.31),(6.6,-4.32),(2.7,-4.59),(0,-4.66),(-2,-4.59)]
p3_v3 = [(37.97,2.94),(35.9,2.74),(34.1,2.37),(32.6,2.18),(30.8,2.1),(29.1,1.88),(27.6,1.51),(26.8,1.06),(27.3,.68),(28.8,.38),(31.7,.24),(33.8,.09),(35.6,.16),(37,.53),(37.97,.57)]
p3_v4 = [(17.1,4.29),(16.8,3.82),(15.3,3.38),(12.9,3.11),(11.4,2.78),(9.6,2.25),(7.5,2.07),(6,1.8),(5.1,1.21),(4.7,.61),(3.3,.01),(1.5,-.47),(-2,-.59)]
p3_v5 = [(9.2,4.29),(8.9,3.82),(7.2,3.38),(5.4,3.15),(3.2,2.9),(1.5,3.11),(-.27,3.6),(-2,3.86)]
p3_v6 = [(5.1,4.26),(3.3,4.14),(.9,4.26)]
p3_v7 = [(-2,2.89),(-.87,2.55),(.48,1.51),(.48,1.13),(-.27,.83),(-1.9,.31)]
p3_v8 = [(15.4,-.89),(14.7,-.51),(13.5,-.33),(11.4,-.21),(8.4,-.25),(6.3,-.36),(4.5,-.89),(3.6,-1.33),(2.7,-2),(3,-2.83),(2,-3.35),(2.7,-3.52),(4.5,-3.31),(6.6,-3.29),(9.2,-3.46),(12,-3.13),(14.1,-2.6),(16,-1.78),(15.9,-1.18),(15.4,-.89)]
p3_v9 = [(37.97,-3.88),(36.5,-3.76),(34.4,-3.71),(32.6,-3.61),(31.4,-3.41),(29.7,-3.34),(28.2,-3.54),(25.8,-3.84),(23.4,-3.91),(20.4,-4.14),(18,-4.36),(15.3,-4.73),(13.8,-4.92),(12.3,-5.29),(11.1,-5.71)]
p3_v10 = [(37.97,-5.03),(36.5,-4.88),(35,-4.66),(33.4,-4.7),(32,-4.99),(30.5,-5.29),(28.4,-5.43),(25.4,-5.48),(21.3,-5.71)]

fig = go.Figure()


def dom(a, b, size):
    return [a / size, b / size]


def add_axes(n, left, right, top, bottom, xr, yr, xt, xl, yt, yl, ymin):
    kw = dict(showgrid=False, zeroline=False, showline=True, linecolor="black", linewidth=1,
              mirror="allticks", ticks="inside", ticklen=9, tickwidth=1, tickcolor="black",
              tickmode="array", tickangle=0, fixedrange=True)
    fig.layout[f"xaxis{n}"] = dict(kw, domain=dom(left, right, W), range=xr, tickvals=xt, ticktext=xl,
                                   anchor=f"y{n}", tickfont=dict(family=SERIF, size=13, color="black"),
                                   minor=dict(dtick=6, tick0=0, ticks="inside", ticklen=5, tickcolor="black", showgrid=False))
    fig.layout[f"yaxis{n}"] = dict(kw, domain=[1 - bottom / H, 1 - top / H], range=yr, tickvals=yt, ticktext=yl,
                                   anchor=f"x{n}", tickfont=dict(family=SERIF, size=13, color="black"),
                                   minor=dict(dtick=ymin, tick0=0, ticks="inside", ticklen=5, tickcolor="black", showgrid=False))


def fill(n, pts, color, smooth=True):
    fig.add_trace(go.Scatter(x=[p[0] for p in pts], y=[p[1] for p in pts], xaxis=f"x{n}", yaxis=f"y{n}",
                             mode="lines", fill="toself", fillcolor=color,
                             line=dict(width=0, color=color, shape="spline" if smooth else "linear", smoothing=0.7),
                             hoverinfo="skip", showlegend=False))


def line(n, pts, color="black", width=1.1, dash="solid"):
    fig.add_trace(go.Scatter(x=[p[0] for p in pts], y=[p[1] for p in pts], xaxis=f"x{n}", yaxis=f"y{n}",
                             mode="lines", line=dict(color=color, width=width, dash=dash, shape="spline", smoothing=0.7),
                             hoverinfo="skip", showlegend=False))


def dots(n, ras, decs, size, color):
    fig.add_trace(go.Scatter(x=[r for r in ras for _ in decs], y=[d for _ in ras for d in decs],
                             xaxis=f"x{n}", yaxis=f"y{n}", mode="markers",
                             marker=dict(size=size, color=color, symbol="circle", line=dict(width=0)),
                             hoverinfo="skip", showlegend=False))


def mark(n, pts, symbol, size, color="black", lw=1, fillc=None):
    fig.add_trace(go.Scatter(x=[p[0] for p in pts], y=[p[1] for p in pts], xaxis=f"x{n}", yaxis=f"y{n}", mode="markers",
                             marker=dict(size=size, symbol=symbol, color=fillc or color, line=dict(color=color, width=lw)),
                             hoverinfo="skip", showlegend=False))


def cbar(n, x0, top, bottom, lo, hi, tv, labels, ra, dec):
    fig.add_trace(go.Scatter(x=[ra, ra], y=[dec, dec], xaxis=f"x{n}", yaxis=f"y{n}", mode="markers",
                             marker=dict(size=1, opacity=0, color=[lo, hi], cmin=lo, cmax=hi,
                                         colorscale=[[0, "black"], [1, "white"]], showscale=True,
                                         colorbar=dict(x=x0 / W, xanchor="left", xref="paper", y=1 - bottom / H, yanchor="bottom", yref="paper",
                                                       len=(bottom - top) / H, lenmode="fraction", thickness=17, thicknessmode="pixels",
                                                       xpad=0, ypad=0, outlinecolor="black", outlinewidth=1, ticks="inside", ticklen=5,
                                                       tickcolor="black", tickwidth=1,
                                                       tickmode="array", tickvals=tv, ticktext=[labels.get(v, "") for v in tv],
                                                       ticklabelposition="outside", tickfont=dict(family=SERIF, size=13, color="black"))),
                             hoverinfo="skip", showlegend=False))


# Panel 1
add_axes(1, 84, 575, 129, 497, [31.2, -109.9], [-7.42, 5.77], p1_xticks, p1_xlabels, p1_yticks, p1_ylabels, 2)
fill(1, p1_dark, "#717171")
fill(1, p1_blob, "#717171")
fill(1, p1_corner, "#717171", False)
for poly in (p1_mid_a, p1_mid_b, p1_mid_c):
    fill(1, poly, "#8a8a8a")
for poly in (p1_light_a, p1_light_b):
    fill(1, poly, "#a4a4a4")
fill(1, p1_hole, "white")
fill(1, p1_mask, "white", False)
dots(1, p1_dot_ra, p1_dot_dec, 3, "black")
for g in (p1_g1, p1_g2, p1_g3, p1_g4, p1_g5, p1_g6, p1_g7, p1_g8, p1_g9):
    line(1, g, GREEN)
for b in (p1_b1, p1_b2, p1_b3, p1_b4, p1_b5, p1_b6):
    line(1, b)
mark(1, p1_star, "star", 13)
mark(1, p1_cross, "x-thin-open", 9)
mark(1, p1_open_star, "star-open", 10)
mark(1, p1_open_circle, "circle-open", 7)
cbar(1, 575, 129, 497, 0.84, 2.9, p1_cb_ticks, p1_cb_labels, p1_dot_ra[0], p1_dot_dec[0])

# Panel 2
add_axes(2, 709, 1199, 6, 497, [46, -45.5], [-8.67, 6.67], p2_xticks, p2_xlabels, p2_yticks, p2_ylabels, 2)
fill(2, p2_f_top, "#8c8c8c")
fill(2, p2_f_top_m, "#9f9f9f")
fill(2, p2_f_top_l, "#b3b3b3")
fill(2, p2_f_top_r, "#a3a3a3")
fill(2, p2_f_main, "#888888")
fill(2, p2_f_m1, "#a0a0a0")
fill(2, p2_f_r1, "#a8a8a8")
fill(2, p2_f_r2, "#c0c0c0")
fill(2, p2_f_c1, "#bcbcbc")
fill(2, p2_f_c2, "#dcdcdc")
fill(2, p2_f_small, "#8c8c8c")
fill(2, p2_f_ll, "#8c8c8c")
fill(2, p2_f_ll_m, "#9c9c9c")
fill(2, p2_f_ll_l, "#b0b0b0")
fill(2, p2_f_low, "#8e8e8e")
fill(2, p2_f_low_m, "#9e9e9e")
fill(2, p2_f_low_l, "#b4b4b4")
fill(2, p2_f_bot, "#a0a0a0")
fill(2, p2_mask, "white", False)
dots(2, p2_dot_ra, p2_dot_dec, 2, "#555555")
for g in (p2_g1, p2_g2, p2_g3, p2_g4, p2_g5, p2_g6, p2_g7, p2_g8, p2_g9, p2_g10, p2_g11, p2_g12, p2_g13):
    line(2, g, GREEN)
for b in (p2_b1, p2_b2, p2_b3, p2_b4, p2_b5, p2_b6, p2_b7):
    line(2, b)
mark(2, [(8.3, -.28)], "star", 13)
mark(2, [(.2, -.82)], "star-open", 14)
mark(2, [(-16, -2.17)], "star", 13)
mark(2, [(-15.2, -2.16)], "diamond-open", 8)
mark(2, [(-28.4, 2.51)], "star-open", 15)
cbar(2, 1199, 6, 497, 0.5, 1.349, p2_cb_ticks, p2_cb_labels, p2_dot_ra[0], p2_dot_dec[0])

# Panel 3
add_axes(3, 461, 951, 567, 1057, [40.04, -3.95], [-6.2, 4.79], p3_xticks, p3_xlabels, p3_yticks, p3_ylabels, 2)
fill(3, p3_upper, "#cdcdcd", False)
fill(3, p3_lower, "#bebebe", False)
for poly in (p3_d1, p3_d2, p3_d3):
    fill(3, poly, "#bebebe")
for poly in (p3_l1, p3_l2, p3_l3, p3_l4):
    fill(3, poly, "#dedede")
for poly in (p3_l5, p3_l6):
    fill(3, poly, "#cdcdcd")
fill(3, p3_l7, "#dedede")
for poly in (p3_w1, p3_w2, p3_w3, p3_w4):
    fill(3, poly, "white")
for poly in (p3_mask_t, p3_mask_b, p3_mask_l, p3_mask_r):
    fill(3, poly, "white", False)
dots(3, p3_dot_ra, p3_dot_dec, 3, "black")
for v in (p3_v1, p3_v2, p3_v3, p3_v4, p3_v5, p3_v6, p3_v7, p3_v8, p3_v9, p3_v10):
    line(3, v, GREEN)
for n_ in (p3_n1, p3_n2, p3_n3, p3_n3b, p3_n4, p3_n5, p3_n6, p3_n7, p3_n8, p3_n9, p3_n10, p3_n11):
    line(3, n_, dash="6px,4px")
for k in (p3_k1, p3_k2, p3_k3, p3_k4, p3_k5, p3_k6, p3_k7, p3_k8, p3_k9):
    line(3, k)
mark(3, [(18, -.71)], "star", 13)
mark(3, [(6.85, 3.04)], "star", 13)
mark(3, [(14, -.2)], "square", 12)
mark(3, [(13.25, -1.37)], "x-thin-open", 13, lw=1.5)
cbar(3, 951, 567, 1057, 0.4, 1.2, p3_cb_ticks, p3_cb_labels, p3_dot_ra[0], p3_dot_dec[0])

star_labels = [("x2", "y2", 6.6, -.66, "1"), ("x2", "y2", -2, -1.29, "1"), ("x2", "y2", -18.2, -2.43, "2"),
               ("x2", "y2", -30.4, 2.05, "2"), ("x3", "y3", 5.57, 2.85, "2"), ("x3", "y3", 17.1, -.89, "1")]
annots = [dict(xref=a, yref=b, x=x, y=y, text=t, showarrow=False, font=dict(family="Liberation Sans", size=13, color="black"))
          for a, b, x, y, t in star_labels]
for px, py, txt, ang in [(329, 526, "RIGHT ASCENSION (B1950)", 0), (954, 526, "RIGHT ASCENSION (B1950)", 0),
                         (706, 1086, "RIGHT ASCENSION (B1950)", 0), (17, 313, "DECLINATION (B1950)", -90),
                         (642, 252, "DECLINATION (B1950)", -90), (394, 812, "DECLINATION (B1950)", -90)]:
    annots.append(dict(xref="paper", yref="paper", x=px / W, y=1 - py / H, text=txt, showarrow=False, textangle=ang,
                       xanchor="center", yanchor="middle", font=dict(family=SERIF, size=14.6, color="black")))

# Heavier frame edges seen in the reference (grey left and top, black right)
frame = []
for x0, x1, y0, y1, c, w in [(84, 84, 129, 497, "#777777", 2), (84, 575, 129, 129, "#777777", 1.5), (575, 575, 129, 497, "black", 2),
                             (709, 709, 6, 497, "#777777", 2), (709, 1199, 6, 6, "#777777", 1.5), (1199, 1199, 6, 497, "black", 2),
                             (951, 951, 567, 1057, "black", 2)]:
    frame.append(dict(type="line", xref="paper", yref="paper", x0=x0 / W, x1=x1 / W, y0=1 - y0 / H, y1=1 - y1 / H,
                      line=dict(color=c, width=w), layer="above"))

fig.update_layout(width=W, height=H, margin=dict(l=0, r=0, t=0, b=0, autoexpand=False), paper_bgcolor="white",
                  plot_bgcolor="white", showlegend=False, annotations=annots, shapes=frame)
fig.write_html("out.html", post_script="document.body.style.margin='0';document.body.style.overflow='hidden';",
               config=dict(displayModeBar=False))
